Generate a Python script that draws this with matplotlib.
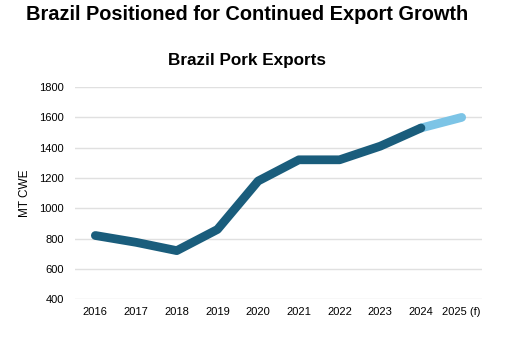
import matplotlib
matplotlib.use("Agg")
import matplotlib.pyplot as plt

years = ["2016", "2017", "2018", "2019", "2020", "2021", "2022", "2023", "2024", "2025 (f)"]
exports = [820, 775, 720, 860, 1180, 1320, 1320, 1410, 1530, 1600]
n_actual = 9  # 2016-2024 actual, 2025 forecast

plt.rcParams['font.family'] = ['Liberation Sans', 'DejaVu Sans']

fig = plt.figure(figsize=(5.05, 3.43), dpi=100)
ax = fig.add_axes([0.1485, 0.128, 0.806, 0.618])

x = list(range(len(years)))
ax.plot(x[n_actual - 1:], exports[n_actual - 1:], color="#7CC4E6", lw=6.3, solid_capstyle="round", zorder=3)
ax.plot(x[:n_actual], exports[:n_actual], color="#1A5D7C", lw=6.3, solid_capstyle="round",
        solid_joinstyle="round", zorder=4)

ax.set_xlim(-0.5, len(years) - 0.5)
ax.set_ylim(400, 1800)
ax.set_yticks(range(400, 1801, 200))
ax.set_xticks(x)
ax.set_xticklabels(years)
ax.grid(axis="y", color="#E0E0E0", lw=1)
ax.set_axisbelow(True)
for s in ax.spines.values():
    s.set_visible(False)
ax.tick_params(length=0, labelsize=8, colors="#000000", pad=6)
ax.tick_params(axis="y", pad=8)
ax.set_ylabel("MT CWE", fontsize=8.5, labelpad=6)

fig.text(0.489, 0.958, "Brazil Positioned for Continued Export Growth", ha="center", va="center",
         fontsize=14.4, fontweight="bold")
fig.text(0.489, 0.825, "Brazil Pork Exports", ha="center", va="center", fontsize=12.3, fontweight="bold")

fig.savefig("out.png", dpi=100)
